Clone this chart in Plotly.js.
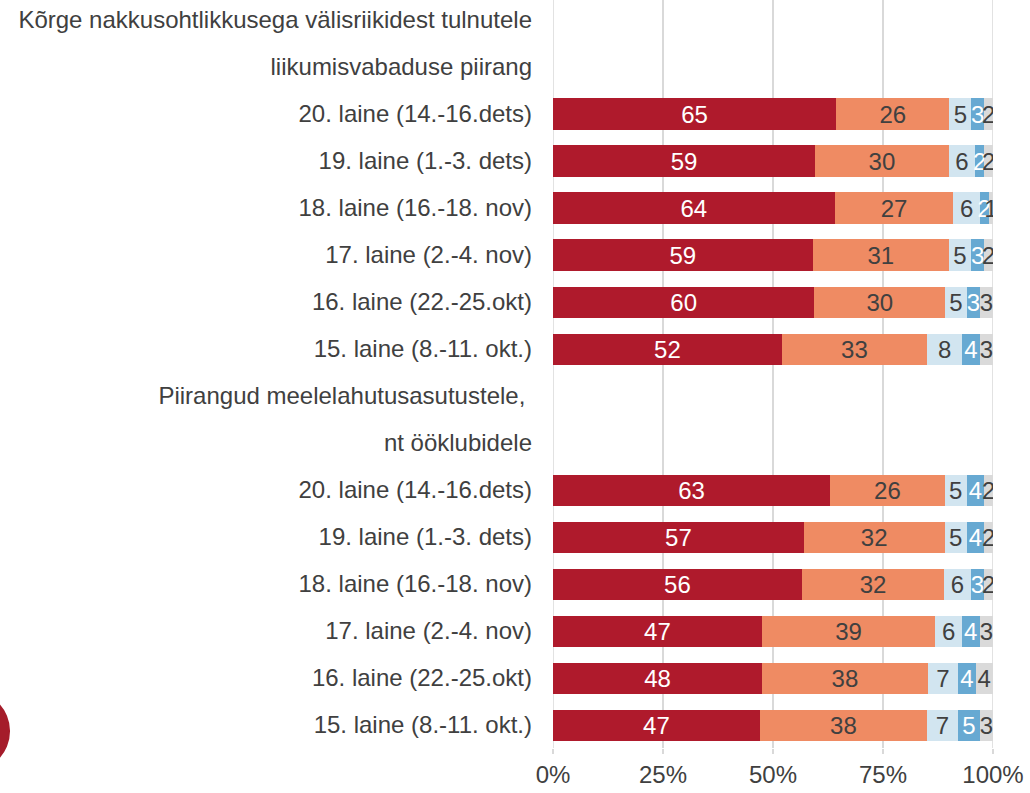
<!DOCTYPE html>
<html>
<head>
<meta charset="utf-8">
<script src="https://cdn.plot.ly/plotly-3.0.1.min.js"></script>
<style>html,body{margin:0;padding:0;background:#fff;}#chart{width:1030px;height:793px;}</style>
</head>
<body>
<div id="chart"></div>
<script>
// Group titles (two lines each) and wave labels
const group1Title = ['Kõrge nakkusohtlikkusega välisriikidest tulnutele', 'liikumisvabaduse piirang'];
const group2Title = ['Piirangud meelelahutusasutustele, ', 'nt ööklubidele'];
const waves = ['20. laine (14.-16.dets)', '19. laine (1.-3. dets)', '18. laine (16.-18. nov)',
               '17. laine (2.-4. nov)', '16. laine (22.-25.okt)', '15. laine (8.-11. okt.)'];
const xTicks = [0, 25, 50, 75, 100];
const xTickText = ['0%', '25%', '50%', '75%', '100%'];

// Group 1: Kõrge nakkusohtlikkusega välisriikidest tulnutele liikumisvabaduse piirang
const g1s1 = [65, 59, 64, 59, 60, 52];
const g1s2 = [26, 30, 27, 31, 30, 33];
const g1s3 = [5, 6, 6, 5, 5, 8];
const g1s4 = [3, 2, 2, 3, 3, 4];
const g1s5 = [2, 2, 1, 2, 3, 3];

// Group 2: Piirangud meelelahutusasutustele, nt ööklubidele
const g2s1 = [63, 57, 56, 47, 48, 47];
const g2s2 = [26, 32, 32, 39, 38, 38];
const g2s3 = [5, 5, 6, 6, 7, 7];
const g2s4 = [4, 4, 3, 4, 4, 5];
const g2s5 = [2, 2, 2, 3, 4, 3];

const colors = ['#AF1A2C', '#EF8B63', '#D2E5F0', '#67A9D2', '#DADADA'];
const textColors = ['#ffffff', '#404040', '#404040', '#ffffff', '#404040'];

const labels = [].concat(group1Title, waves, group2Title, waves);
const idx = labels.map((_, i) => i);
const pad = [null, null];
const series = [
  [].concat(pad, g1s1, pad, g2s1),
  [].concat(pad, g1s2, pad, g2s2),
  [].concat(pad, g1s3, pad, g2s3),
  [].concat(pad, g1s4, pad, g2s4),
  [].concat(pad, g1s5, pad, g2s5)
];

const font = 'Liberation Sans, Arial, sans-serif';
const fs = 24;
const traces = series.map((vals, k) => ({
  type: 'bar',
  orientation: 'h',
  y: idx,
  x: vals,
  text: vals.map(v => v === null ? '' : String(v)),
  texttemplate: '%{text}',
  textposition: 'inside',
  insidetextanchor: 'middle',
  textangle: 0,
  constraintext: 'none',
  textfont: {family: font, size: fs, color: textColors[k]},
  marker: {color: colors[k], line: {width: 0}},
  width: 0.66,
  hoverinfo: 'skip',
  showlegend: false
}));

const edgeLines = [0, 100].map(v => ({
  type: 'line', xref: 'x', yref: 'paper',
  x0: v, x1: v, y0: 0, y1: 1,
  line: {color: '#D9D9D9', width: 1.5},
  layer: 'below'
}));

const layout = {
  width: 1030,
  height: 793,
  margin: {l: 553, r: 37, t: 0, b: 45},
  barmode: 'stack',
  barnorm: 'percent',
  paper_bgcolor: '#ffffff',
  plot_bgcolor: '#ffffff',
  uniformtext: {minsize: fs, mode: 'show'},
  font: {family: font, size: fs, color: '#404040'},
  xaxis: {
    range: [0, 100],
    tickvals: xTicks,
    ticktext: xTickText,
    showgrid: true,
    gridcolor: '#D9D9D9',
    gridwidth: 1.5,
    zeroline: false,
    showline: false,
    ticks: 'outside',
    ticklen: 5,
    tickcolor: '#D9D9D9',
    tickwidth: 1.5,
    tickfont: {family: font, size: fs, color: '#404040'},
    fixedrange: true
  },
  yaxis: {
    range: [15.489, -0.4255],
    tickvals: idx,
    ticktext: labels,
    showgrid: false,
    zeroline: false,
    showline: false,
    ticks: '',
    ticklabelstandoff: 20,
    tickfont: {family: font, size: fs, color: '#404040'},
    fixedrange: true
  },
  shapes: edgeLines.concat([{
    type: 'circle',
    xref: 'paper', yref: 'paper',
    x0: -1.416, x1: -1.234,
    y0: -0.031, y1: 0.0762,
    fillcolor: '#A51C2A',
    line: {width: 0},
    layer: 'above'
  }])
};

Plotly.newPlot('chart', traces, layout, {displayModeBar: false, staticPlot: true});
</script>
</body>
</html>
